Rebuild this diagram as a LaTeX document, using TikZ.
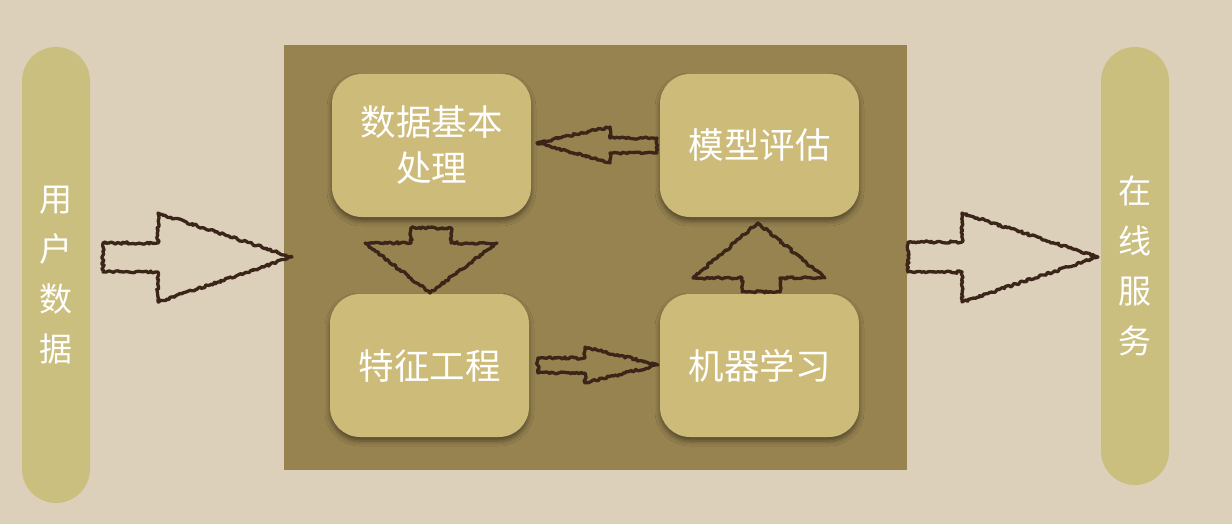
\documentclass[tikz,border=0pt]{standalone}
\usepackage{fontspec}
\newfontfamily\cjk{Noto Sans CJK SC}
\usetikzlibrary{shadows.blur,decorations.pathmorphing}
\definecolor{bgc}{HTML}{DDD0BA}
\definecolor{panelc}{HTML}{978350}
\definecolor{pillc}{HTML}{CBBF7F}
\definecolor{boxc}{HTML}{CDBB7A}
\definecolor{inkc}{HTML}{3B2418}
\tikzset{
  pill/.style={fill=pillc, rounded corners=34pt, minimum width=68pt, inner sep=0pt,
    text=white, font=\cjk\fontsize{33}{50}\selectfont, align=center},
  stepbox/.style={fill=boxc, rounded corners=30pt, minimum width=199pt, minimum height=143pt,
    inner sep=0pt, text=white, font=\cjk\fontsize{35.5}{46}\selectfont, align=center,
    blur shadow={shadow xshift=0pt, shadow yshift=-4pt, shadow blur radius=5pt, shadow opacity=45}},
  sketch/.style={draw=inkc, line width=3.3pt, line join=round,
    decorate, decoration={random steps, segment length=2pt, amplitude=1.2pt}}
}
\begin{document}
\begin{tikzpicture}[x=1pt,y=-1pt]
\useasboundingbox (0,0) rectangle (1232,524);
\fill[bgc] (0,0) rectangle (1232,524);
% panel
\node[fill=panelc, minimum width=623pt, minimum height=425pt, inner sep=0pt] (panel) at (595.5,257.5) {};
% pills
\node[pill, minimum height=456pt] (user) at (56,275) {用\\户\\数\\据};
\node[pill, minimum height=438pt] (online) at (1135,266) {在\\线\\服\\务};
% boxes
\node[stepbox] (prep) at (431.5,145.5) {数据基本\\处理};
\node[stepbox] (eval) at (759.5,145.5) {模型评估};
\node[stepbox] (feat) at (429.5,365.5) {特征工程};
\node[stepbox] (ml) at (759.5,365.5) {机器学习};
% arrows
% user -> panel
\draw[sketch] (103,243) -- (158,243) -- (158,213) -- (292,257) -- (158,302) -- (158,272) -- (103,272) -- cycle;
% panel -> online
\draw[sketch] (908,242) -- (962,242) -- (962,213) -- (1098,257) -- (962,302) -- (962,272) -- (908,272) -- cycle;
% prep -> feat (down)
\draw[sketch] (411,228) -- (451,228) -- (451,243) -- (497,243) -- (430,293) -- (365,243) -- (411,243) -- cycle;
% feat -> ml (right)
\draw[sketch] (538,358) -- (585,358) -- (585,347) -- (658,365) -- (585,383) -- (585,373) -- (538,373) -- cycle;
% ml -> eval (up)
\draw[sketch] (742,292) -- (742,278) -- (693,278) -- (758,223) -- (825,278) -- (780,278) -- (780,292) -- cycle;
% eval -> prep (left)
\draw[sketch] (657,138) -- (610,138) -- (610,127) -- (537,143) -- (610,163) -- (610,153) -- (657,153) -- cycle;
\end{tikzpicture}
\end{document}
